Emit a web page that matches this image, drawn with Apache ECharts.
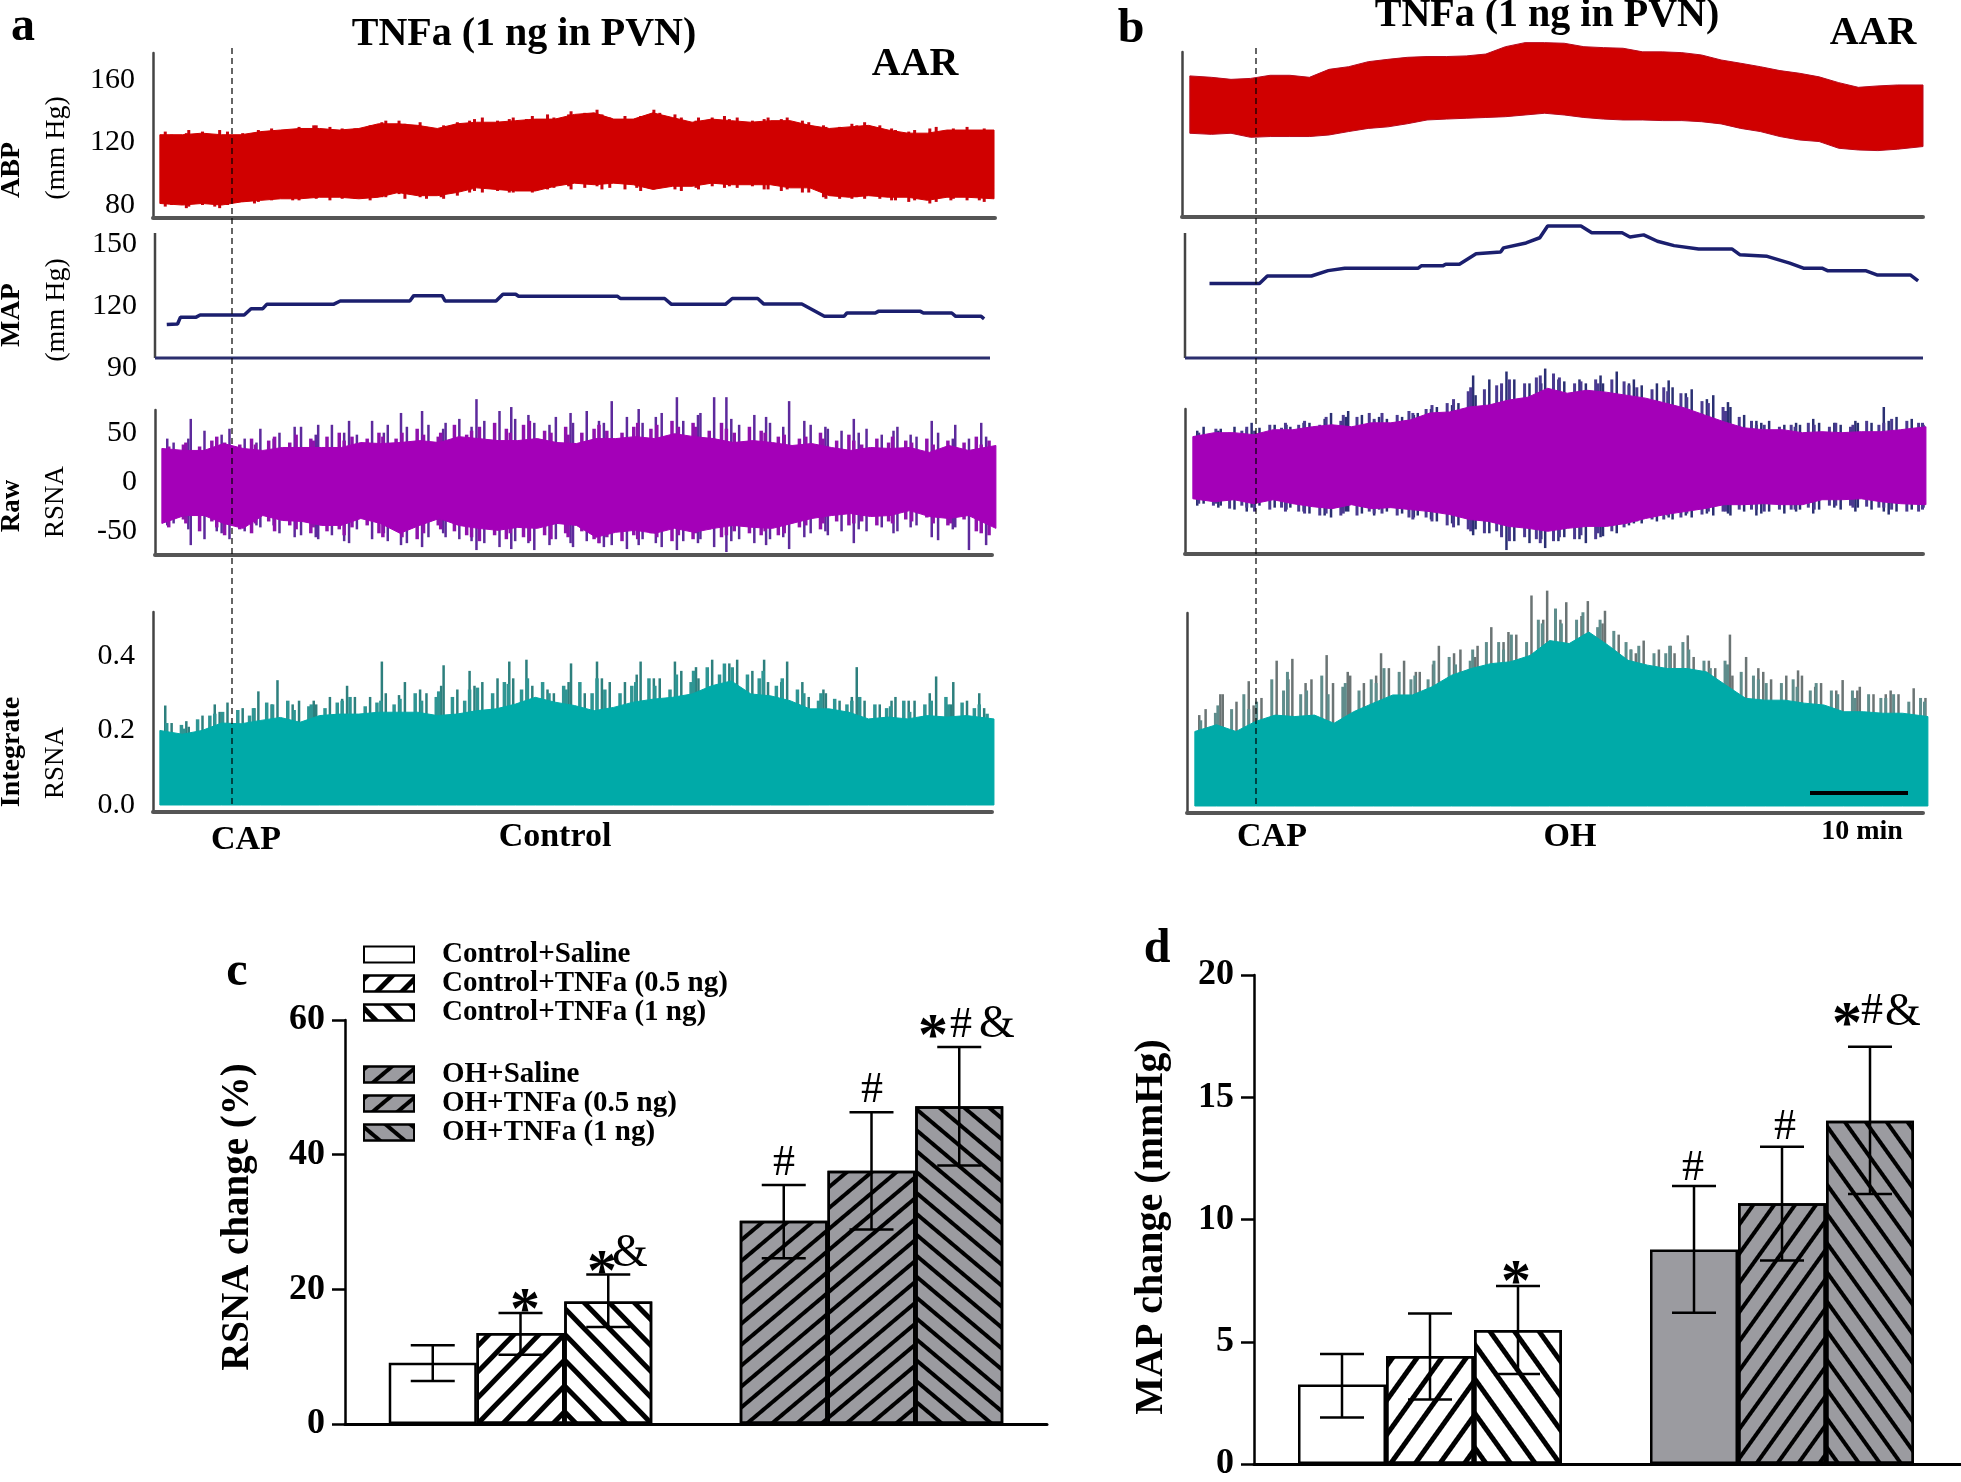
<!DOCTYPE html>
<html>
<head>
<meta charset="utf-8">
<title>TNFa in PVN</title>
<script src="https://cdn.jsdelivr.net/npm/echarts@6/dist/echarts.min.js"></script>
<style>
  html, body { margin: 0; padding: 0; background: #fff; }
  #chart { width: 1961px; height: 1482px; }
</style>
</head>
<body>
<div id="chart"></div>
<script>
// time (min) of the envelope readings
const envTimeA = [.7,3,5,7,9,11,13,15,17,19,21,23,25,27,29,31,33,35,37,39,41,43,45,47,49,51,53,55,57,59,61,63,65,67,69,71,73,75,77,79,81,83,85.8];
const envTimeB = [.8,3,5,7,9,11,13,15,17,19,21,23,25,27,29,31,33,35,37,39,41,43,45,47,49,51,53,55,57,59,61,63,65,67,69,71,73,75.6];
// the spikes do not fall on whole minutes, small offsets (min)
const spikeOffset = [.1,-.3,.25,-.1,.4,-.35,.05,.3,-.2,-.4,.15,.35,-.25];

// panel a
const abpAUpper = [125,125,126,125,125,127,128,129,129,128,129,132,132,131,129,132,133,133,134,135,135,138,139,135,135,139,136,133,135,134,133,134,134,131,129,130,131,128,126,126,128,128,128];
const abpALower = [81,80,81,80,82,83,84,84,85,85,84,85,88,86,86,88,91,90,89,89,92,94,93,94,93,90,92,92,94,93,93,93,91,91,86,85,86,85,85,83,85,85,84];
const abpAPeakUp = [127,125,126,128,127,125,128,127,126,124,128,129,127,128,130,131,131,130,129,127,129,131,133,134,134,132,133,130,128,131,133,134,135,136,134,135,136,135,137,138,136,138,140,139,141,138,136,137,135,137,141,139,138,136,134,136,136,137,135,136,134,135,136,135,136,134,133,131,130,130,132,131,133,131,129,128,127,128,129,130,128,129,130,128,129];
const abpAPeakLow = [79,80,78,79,80,79,78,80,82,81,82,83,84,83,83,85,84,83,84,85,84,83,85,85,87,84,85,84,85,84,86,88,89,88,89,88,88,90,88,90,91,92,90,91,92,90,91,90,91,89,90,91,90,89,91,90,92,91,92,91,92,90,90,89,90,88,88,85,84,84,84,85,84,84,83,83,82,83,81,82,83,84,83,83,82];
const mapATime = [1.2,2.3,2.6,4.2,4.6,9.1,9.8,11,11.4,18.2,18.9,26,26.4,29.3,29.6,34.8,35.5,36.8,37.1,47.2,47.5,52,52.7,58.2,58.9,61.5,62.1,66,68.3,70.3,70.6,73.5,73.8,78.1,78.4,81.3,81.7,84.3,84.6];
const mapAValue = [111,111.3,114.6,114.6,115.6,115.6,118.7,118.7,120.8,120.8,122.4,122.4,125,125,122.4,122.4,125.7,125.7,124.7,124.7,123.6,123.6,120.8,120.8,123.6,123.6,121,121,115,115,116.6,116.6,117.4,117.4,116.6,116.6,115,115,113.8];
const rawAUpper = [34,32,32,39,34,32,35,35,35,35,40,39,40,42,40,46,44,42,42,44,40,39,44,44,46,44,49,46,44,40,42,40,37,39,35,32,35,34,35,30,37,32,37];
const rawALower = [-42,-34,-34,-42,-47,-34,-39,-40,-44,-44,-37,-42,-52,-44,-37,-44,-47,-49,-46,-47,-42,-44,-56,-51,-49,-52,-47,-51,-47,-44,-46,-47,-42,-37,-34,-32,-35,-34,-29,-35,-37,-34,-47];
const rawAPeakUp = [44,40,44,64,52,42,48,54,44,40,54,44,50,56,56,48,58,58,50,62,48,62,50,58,70,56,72,58,54,60,64,56,84,62,72,76,64,68,60,58,66,70,60,72,62,60,82,66,74,60,66,70,86,62,68,70,86,86,64,58,68,66,60,56,82,62,58,56,54,52,64,50,54,48,52,56,48,46,62,50,44,58,44,60,46];
const rawAPeakLow = [-44,-42,-48,-64,-58,-50,-52,-58,-50,-44,-46,-44,-52,-56,-54,-56,-58,-54,-60,-62,-48,-58,-52,-60,-64,-62,-66,-56,-52,-56,-58,-60,-69,-62,-66,-68,-60,-62,-69,-64,-58,-62,-66,-60,-62,-66,-64,-68,-64,-58,-62,-66,-69,-60,-62,-58,-66,-71,-60,-58,-62,-64,-58,-56,-68,-56,-52,-50,-54,-50,-62,-48,-50,-46,-52,-50,-46,-44,-56,-59,-48,-46,-69,-50,-64];
const rawAMidUp = [36,38,40,36,42,46,40,38,44,38,42,46,40,48,44,42,46,50,42,46,44,50,46,44,50,54,48,46,50,58,48,52,56,60,54,50,58,62,52,50,56,48,50,54,58,52,50,56,60,54,58,62,56,60,56,52,60,54,50,56,52,50,46,48,44,46,50,44,42,48,42,38,44,40,46,42,40,44,38,42,36,40,46,38,42];
const rawAMidLow = [-46,-38,-42,-50,-40,-46,-54,-48,-52,-42,-40,-50,-44,-48,-52,-46,-50,-48,-54,-46,-44,-52,-56,-48,-56,-58,-52,-44,-48,-50,-54,-56,-60,-54,-58,-52,-56,-60,-54,-58,-52,-56,-50,-58,-62,-56,-60,-54,-58,-52,-56,-60,-54,-58,-52,-48,-56,-54,-50,-52,-54,-50,-54,-52,-46,-44,-48,-42,-40,-44,-42,-40,-44,-40,-42,-38,-40,-36,-42,-44,-42,-38,-50,-52,-54];
const intABase = [.2,.19,.2,.22,.218,.227,.235,.222,.24,.244,.244,.249,.249,.249,.24,.244,.253,.258,.271,.289,.276,.267,.253,.262,.276,.284,.289,.298,.32,.333,.298,.293,.28,.258,.258,.249,.231,.236,.231,.24,.236,.24,.231];
const intAPeak = [.267,.22,.225,.21,.24,.27,.25,.275,.26,.26,.305,.27,.335,.27,.28,.28,.27,.29,.285,.32,.29,.29,.385,.3,.295,.33,.31,.3,.32,.375,.31,.36,.32,.33,.34,.385,.34,.39,.32,.31,.3,.33,.38,.3,.385,.34,.33,.33,.35,.385,.34,.34,.385,.36,.37,.34,.39,.36,.38,.39,.36,.39,.33,.33,.385,.33,.29,.31,.3,.28,.29,.37,.28,.27,.28,.29,.28,.28,.3,.345,.27,.33,.28,.3,.26];
const intAMid = [.22,.215,.205,.23,.24,.245,.25,.255,.24,.26,.275,.27,.28,.255,.265,.27,.26,.275,.28,.29,.265,.275,.28,.27,.285,.3,.28,.29,.305,.29,.28,.31,.315,.3,.33,.325,.31,.34,.33,.3,.32,.31,.33,.3,.34,.31,.3,.32,.33,.34,.32,.31,.35,.33,.36,.37,.35,.38,.37,.35,.34,.36,.32,.34,.31,.3,.28,.3,.285,.27,.28,.29,.27,.26,.265,.28,.25,.27,.28,.29,.27,.275,.26,.27,.245];

// panel b
const abpBUpper = [162.6,161.7,160.4,161,163,163,161.7,166.8,168.5,171.7,173.2,174.5,175,175,175.4,176.6,181.3,183.9,183.9,183.5,181.3,180.7,180.3,178,178,177.5,176,172.8,170.7,168.5,166,164.3,162,158.3,155.3,156.2,156.8,156.8];
const abpBLower = [125.9,125.2,125.9,123.3,123.8,123.8,123.8,124.8,127,129,130,132,134.4,135,135.5,136,136.5,137.6,138.7,137.6,136,135,134.4,134.4,134,134,133.3,131.9,129,127,123.8,121.6,120.6,116.3,115.2,114.8,115.7,117.4];
const mapBTime = [2.5,7.6,8.4,12.9,14.6,16.3,23.8,24.1,26.3,26.6,28,29.7,32.2,32.5,34.8,36.2,37,40.4,41.5,44.6,45.4,46.8,48.2,49.9,52.4,55.8,56.6,59.4,61.7,63.1,65,65.6,69.5,70.6,74,74.8];
const mapBValue = [130.9,130.9,134.5,134.5,137.1,138.3,138.3,139.4,139.4,140.2,140.2,145.3,146.1,148.1,150.5,153,158.7,158.7,155.4,155.4,153.4,154.4,151.3,149.2,147.6,147.6,144.8,144,140.7,138.3,138.3,137,137,135,135,132.1];
const rawBUpper = [46,50,50,48,53,53,56,58,56,60,60,63,70,71,76,78,83,86,95,90,93,91,88,85,80,75,68,61,55,53,53,50,51,50,51,51,53,56];
const rawBLower = [-17,-20,-18,-22,-18,-22,-25,-27,-23,-27,-26,-28,-30,-33,-38,-40,-45,-47,-50,-47,-45,-45,-42,-37,-33,-30,-27,-23,-23,-22,-23,-23,-18,-18,-17,-20,-22,-23];
const rawBPeakUp = [52,56,52,54,56,54,60,55,58,58,56,60,60,64,70,66,72,68,62,66,64,66,68,70,74,76,78,80,108,88,104,92,112,104,100,100,115,104,102,104,100,108,100,112,100,104,98,100,103,96,90,94,84,88,81,76,68,62,60,62,58,60,58,64,60,60,58,62,60,60,76,62,66,64,58];
const rawBPeakLow = [-24,-22,-26,-24,-28,-30,-26,-24,-26,-28,-26,-30,-32,-34,-36,-30,-30,-32,-34,-28,-30,-32,-36,-34,-38,-40,-42,-44,-54,-48,-52,-54,-69,-60,-62,-58,-67,-60,-56,-58,-62,-56,-55,-52,-44,-42,-42,-40,-36,-38,-34,-36,-32,-34,-32,-34,-30,-34,-32,-30,-32,-30,-28,-32,-28,-26,-28,-30,-26,-28,-30,-33,-30,-28,-26];
const rawBMidUp = [50,48,54,50,52,56,52,58,55,60,58,62,58,66,62,68,66,70,64,70,68,72,70,74,78,80,84,92,96,94,98,100,104,100,106,108,110,106,100,102,104,100,104,102,98,96,94,96,92,90,86,82,80,76,72,66,62,58,58,56,58,56,60,58,56,60,56,58,62,58,60,64,62,60,60];
const rawBMidLow = [-22,-24,-22,-27,-24,-26,-30,-28,-26,-30,-30,-32,-34,-32,-34,-32,-34,-30,-32,-32,-34,-36,-38,-36,-40,-44,-46,-48,-50,-52,-50,-56,-60,-56,-58,-62,-60,-56,-58,-54,-58,-52,-50,-46,-40,-40,-38,-38,-34,-36,-32,-33,-30,-30,-30,-28,-28,-28,-30,-28,-28,-28,-26,-28,-24,-24,-24,-26,-25,-26,-26,-28,-30,-30,-28];
const intBBase = [.2,.218,.2,.227,.244,.24,.244,.222,.253,.276,.298,.298,.32,.351,.369,.382,.387,.404,.444,.436,.467,.431,.391,.378,.369,.369,.36,.324,.289,.284,.284,.276,.271,.253,.253,.249,.249,.24];
const intBPeak = [.244,.26,.3,.3,.28,.335,.27,.29,.39,.34,.395,.33,.34,.405,.33,.36,.35,.33,.35,.41,.37,.39,.36,.36,.38,.43,.41,.42,.4,.43,.48,.44,.467,.46,.565,.5,.578,.5,.547,.51,.55,.49,.524,.46,.42,.41,.444,.42,.43,.41,.458,.4,.39,.37,.46,.35,.4,.37,.36,.34,.35,.364,.35,.32,.33,.31,.338,.31,.32,.3,.3,.31,.3,.316,.29];
const intBMid = [.23,.25,.27,.26,.3,.26,.28,.34,.31,.36,.3,.31,.35,.3,.32,.33,.31,.34,.33,.37,.36,.34,.35,.34,.39,.4,.38,.39,.42,.44,.44,.42,.46,.44,.5,.49,.53,.49,.5,.52,.48,.5,.47,.44,.42,.43,.41,.41,.43,.44,.42,.39,.37,.39,.38,.36,.35,.34,.33,.33,.34,.32,.31,.33,.31,.3,.31,.29,.3,.29,.29,.3,.28,.29,.28];

// panels c and d
const barNames = ['Control+Saline', 'Control+TNFa (0.5 ng)', 'Control+TNFa (1 ng)', 'OH+Saline', 'OH+TNFa (0.5 ng)', 'OH+TNFa (1 ng)'];
const barSlots = [1, 2, 3, 5, 6, 7];
const rsnaMean = [9.1, 13.5, 18.2, 30.2, 37.6, 47.2];
const rsnaHigh = [11.7, 16.5, 22.2, 35.5, 46.3, 56];
const rsnaLow = [6.4, 10.3, 14.4, 24.6, 28.9, 38.4];
const mapMean = [3.25, 4.42, 5.48, 8.77, 10.66, 14.04];
const mapHigh = [4.5, 6.16, 7.28, 11.37, 12.98, 17.07];
const mapLow = [1.9, 2.64, 3.68, 6.19, 8.32, 11.04];

const SERIF = 'Liberation Serif';
const RED = '#d00000', NAVY = '#1b1f6e', PURPLE = '#a400b8', TEAL = '#00aaa8', BAR_GRAY = '#9b9ba0';

const grids = [], xAxes = [], yAxes = [], series = [];

// one trace panel: grid + its two axes, returns the index
function addPanel(box, xMax, yMin, yMax, ticks, fmt, axisShow = true) {
  const idx = grids.length;
  grids.push({ left: box[0], top: box[1], width: box[2], height: box[3] });
  xAxes.push({
    gridIndex: idx, type: 'value', min: 0, max: xMax, show: axisShow,
    axisLine: { show: true, onZero: false, lineStyle: { color: '#555', width: 4 } },
    axisTick: { show: false }, axisLabel: { show: false }, splitLine: { show: false }
  });
  yAxes.push({
    gridIndex: idx, type: 'value', min: yMin, max: yMax,
    axisLine: { show: axisShow, onZero: false, lineStyle: { color: '#444', width: 2.5 } },
    axisTick: { show: false }, splitLine: { show: false },
    axisLabel: {
      show: ticks.length > 0, customValues: ticks, margin: 18, formatter: fmt,
      color: '#000', fontFamily: SERIF, fontSize: 30
    }
  });
  return idx;
}

// filled band between two envelopes, one polygon through the axis scales
function addBand(idx, times, low, high, fill, edge) {
  const rows = times.map((t, i) => [t, low[i], high[i]]);
  series.push({
    type: 'custom', xAxisIndex: idx, yAxisIndex: idx, z: 4, silent: true,
    encode: { x: 0, y: [1, 2] }, data: rows,
    renderItem(params, api) {
      if (params.dataIndex !== 0) return null;
      const top = rows.map(r => api.coord([r[0], r[2]]));
      const bottom = rows.map(r => api.coord([r[0], r[1]])).reverse();
      return { type: 'polygon', shape: { points: top.concat(bottom) }, style: { fill, stroke: edge, lineWidth: 1 } };
    }
  });
}

// thin spikes sticking out of a band, one reading per minute (start = time of the first one)
function addSpikes(idx, low, high, color, width, start, z) {
  const rows = high.map((h, i) => [i + start + spikeOffset[(i + z) % spikeOffset.length], low ? low[i] : 0, h]);
  series.push({
    type: 'custom', xAxisIndex: idx, yAxisIndex: idx, z, silent: true,
    encode: { x: 0, y: [1, 2] }, data: rows,
    renderItem(params, api) {
      const a = api.coord([api.value(0), api.value(1)]);
      const b = api.coord([api.value(0), api.value(2)]);
      return { type: 'line', shape: { x1: a[0], y1: a[1], x2: b[0], y2: b[1] }, style: { stroke: color, lineWidth: width } };
    }
  });
}

function addLine(idx, rows, color, width) {
  series.push({
    type: 'line', xAxisIndex: idx, yAxisIndex: idx, data: rows, showSymbol: false, silent: true, clip: false,
    lineStyle: { color, width }, z: 3
  });
}

// MAP panels: axis lines stop above the 90 label, so they are drawn as lines
function addMapPanel(left, right, xMax, ticks, times, values) {
  const idx = addPanel([left, 233, right - left, 135], xMax, 90, 155.3, ticks, null, false);
  addLine(idx, [[0, 94.8], [0, 155.3]], '#444', 2.5);
  addLine(idx, [[0, 94.8], [xMax, 94.8]], '#2b2e6e', 3);
  addLine(idx, times.map((t, i) => [t, values[i]]), NAVY, 3.5);
}

// panel a
const aAbp = addPanel([153, 53, 842, 165], 85.9, 71.7, 177.3, [80, 120, 160]);
addSpikes(aAbp, abpAPeakLow, abpAPeakUp, '#c8040e', 3, 1, 2);
addBand(aAbp, envTimeA, abpALower, abpAUpper, RED, RED);
addMapPanel(155, 990, 85.2, [90, 120, 150], mapATime, mapAValue);
const aRaw = addPanel([155, 410, 837, 145], 85.4, -74, 73, [-50, 0, 50]);
addSpikes(aRaw, rawAPeakLow, rawAPeakUp, '#5d2a9c', 2.5, 1, 2);
addSpikes(aRaw, rawAMidLow, rawAMidUp, '#8f12ac', 3.5, 1.5, 3);
addBand(aRaw, envTimeA, rawALower, rawAUpper, PURPLE, PURPLE);
const aInt = addPanel([153, 612, 839, 200], 85.6, -0.0188, 0.518, [0, 0.2, 0.4], v => v.toFixed(1));
addSpikes(aInt, null, intAPeak, '#2d7f7d', 2.5, 1, 2);
addSpikes(aInt, null, intAMid, '#2f9593', 3.5, 1.5, 3);
addBand(aInt, envTimeA, [...intABase].fill(0), intABase, TEAL, TEAL);

// panel b
const bAbp = addPanel([1182, 52, 741, 165], 75.6, 72.3, 177.9, []);
addBand(bAbp, envTimeB, abpBLower, abpBUpper, RED, '#b80a1e');
addMapPanel(1185, 1923, 75.3, [], mapBTime, mapBValue);
const bRaw = addPanel([1185, 409, 738, 145], 75.3, -73, 74, []);
addSpikes(bRaw, rawBPeakLow, rawBPeakUp, '#2a2f72', 2.5, 1, 2);
addSpikes(bRaw, rawBMidLow, rawBMidUp, '#4a3a90', 3, 1.5, 3);
addBand(bRaw, envTimeB, rawBLower, rawBUpper, PURPLE, PURPLE);
const bInt = addPanel([1187, 613, 736, 200], 75.1, -0.0188, 0.518, []);
addSpikes(bInt, null, intBPeak, '#6b7474', 2.5, 1, 2);
addSpikes(bInt, null, intBMid, '#5f8d8c', 3, 1.5, 3);
addBand(bInt, envTimeB, [...intBBase].fill(0), intBBase, TEAL, TEAL);

// hatch pattern for the bars
function hatch(angle, stroke, gap) {
  return { symbol: 'rect', symbolSize: 1, rotation: angle, color: '#000', dashArrayX: [1, 0], dashArrayY: [stroke, gap] };
}

// bar panel: one series per bar so the legend can pick them up
function addBarPanel(box, xMax, yMax, interval, prefix, means, highs, lows, looks) {
  const idx = grids.length;
  grids.push({ left: box[0], top: box[1], width: box[2], height: box[3] });
  xAxes.push({
    gridIndex: idx, type: 'value', min: 0, max: xMax,
    axisLine: { show: true, lineStyle: { color: '#000', width: 3 } },
    axisTick: { show: false }, axisLabel: { show: false }, splitLine: { show: false }
  });
  yAxes.push({
    gridIndex: idx, type: 'value', min: 0, max: yMax, interval,
    axisLine: { show: true, lineStyle: { color: '#000', width: 2.5 } },
    axisTick: { show: true, length: 13, lineStyle: { color: '#000', width: 2.5 } },
    splitLine: { show: false },
    axisLabel: { color: '#000', fontFamily: SERIF, fontWeight: 'bold', fontSize: 36, margin: 20 }
  });
  barNames.forEach((name, i) => {
    series.push({
      name: prefix + name, type: 'bar', xAxisIndex: idx, yAxisIndex: idx, stack: prefix + 'bars',
      barWidth: 88, silent: true, z: 2,
      data: [[barSlots[i], means[i]]],
      itemStyle: { color: looks[i].fill, borderColor: '#000', borderWidth: 2.5, decal: looks[i].decal || null }
    });
  });
  const rows = barSlots.map((s, i) => [s, lows[i], highs[i]]);
  series.push({
    type: 'custom', xAxisIndex: idx, yAxisIndex: idx, z: 5, silent: true,
    encode: { x: 0, y: [1, 2] }, data: rows,
    renderItem(params, api) {
      const lo = api.coord([api.value(0), api.value(1)]);
      const hi = api.coord([api.value(0), api.value(2)]);
      const style = { stroke: '#000', lineWidth: 2.5, fill: null };
      const seg = (x1, y1, x2, y2) => ({ type: 'line', shape: { x1, y1, x2, y2 }, style });
      return { type: 'group', children: [
        seg(lo[0], lo[1], hi[0], hi[1]),
        seg(lo[0] - 22, lo[1], lo[0] + 22, lo[1]),
        seg(hi[0] - 22, hi[1], hi[0] + 22, hi[1])
      ] };
    }
  });
}

addBarPanel([345, 1020, 702, 404], 8, 60, 20, '', rsnaMean, rsnaHigh, rsnaLow, [
  { fill: '#fff' },
  { fill: '#fff', decal: hatch(-0.8, 4.5, 13) },
  { fill: '#fff', decal: hatch(0.8, 4.5, 13) },
  { fill: BAR_GRAY, decal: hatch(-0.7, 3.5, 12) },
  { fill: BAR_GRAY, decal: hatch(-0.7, 3.5, 12) },
  { fill: BAR_GRAY, decal: hatch(0.7, 3.5, 12) }
]);
addBarPanel([1254, 975, 707, 492], 8.034, 20, 5, 'MAP ', mapMean, mapHigh, mapLow, [
  { fill: '#fff' },
  { fill: '#fff', decal: hatch(-0.95, 4.5, 15) },
  { fill: '#fff', decal: hatch(0.95, 4.5, 15) },
  { fill: BAR_GRAY },
  { fill: BAR_GRAY, decal: hatch(-0.95, 4, 13) },
  { fill: BAR_GRAY, decal: hatch(0.95, 4, 13) }
]);

function makeLegend(names, top) {
  return {
    data: names, left: 358, top, orient: 'vertical', icon: 'rect', selectedMode: false,
    itemWidth: 50, itemHeight: 16, itemGap: 0,
    textStyle: { fontFamily: SERIF, fontWeight: 'bold', fontSize: 29, color: '#000', padding: [0, 0, 0, 23] }
  };
}

// annotation text, [text, x, y, size, bold, rotated]
const labels = [
  ['a', 23, 28, 48, 1], ['b', 1131, 30, 48, 1], ['c', 237, 973, 48, 1], ['d', 1157, 950, 48, 1],
  ['TNFa (1 ng in PVN)', 524, 35, 40, 1], ['TNFa (1 ng in PVN)', 1547, 16, 40, 1],
  ['AAR', 915, 65, 40, 1], ['AAR', 1873, 34, 40, 1],
  ['CAP', 246, 840, 34, 1], ['Control', 555, 837, 34, 1],
  ['CAP', 1272, 837, 34, 1], ['OH', 1570, 837, 34, 1], ['10 min', 1862, 832, 28, 1],
  ['ABP', 12, 170, 28, 1, 1], ['(mm Hg)', 57, 148, 28, 0, 1],
  ['MAP', 12, 315, 28, 1, 1], ['(mm Hg)', 57, 310, 28, 0, 1],
  ['Raw', 12, 506, 27, 1, 1], ['RSNA', 56, 502, 27, 0, 1],
  ['Integrate', 12, 752, 28, 1, 1], ['RSNA', 56, 763, 27, 0, 1],
  ['RSNA change (%)', 238, 1217, 39, 1, 1], ['MAP change (mmHg)', 1152, 1227, 40, 1, 1],
  ['*', 525, 1312, 60, 1], ['*', 602, 1274, 60, 1], ['&', 630, 1254, 46, 0],
  ['#', 784, 1163, 44, 0], ['#', 872, 1090, 44, 0],
  ['*', 933, 1038, 60, 1], ['#', 961, 1025, 44, 0], ['&', 997, 1025, 46, 0],
  ['*', 1516, 1284, 60, 1], ['#', 1693, 1168, 44, 0], ['#', 1785, 1127, 44, 0],
  ['*', 1847, 1026, 60, 1], ['#', 1872, 1011, 44, 0], ['&', 1903, 1013, 46, 0]
];
const graphics = labels.map(l => ({
  type: 'text', x: l[1], y: l[2], rotation: l[5] ? Math.PI / 2 : 0, z: 20, silent: true,
  style: {
    text: l[0], fill: '#000', fontFamily: SERIF, fontSize: l[3], fontWeight: l[4] ? 'bold' : 'normal',
    textAlign: 'center', textVerticalAlign: 'middle', align: 'center', verticalAlign: 'middle'
  }
}));
// CAP markers and the 10 min scale bar
[232, 1256].forEach(x => graphics.push({
  type: 'line', z: 20, silent: true, shape: { x1: x, y1: 48, x2: x, y2: 805 },
  style: { stroke: '#000', lineWidth: 1.2, lineDash: [6, 4] }
}));
graphics.push({ type: 'rect', z: 20, silent: true, shape: { x: 1810, y: 791, width: 98, height: 4 }, style: { fill: '#000' } });

const chart = echarts.init(document.getElementById('chart'));
chart.setOption({
  animation: false,
  backgroundColor: '#fff',
  grid: grids, xAxis: xAxes, yAxis: yAxes,
  legend: [makeLegend(barNames.slice(0, 3), 935), makeLegend(barNames.slice(3), 1055)],
  series,
  graphic: graphics
});
</script>
</body>
</html>
